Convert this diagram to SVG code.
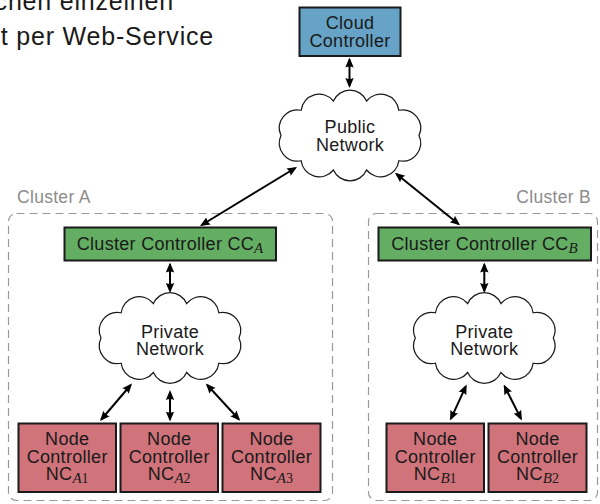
<svg xmlns="http://www.w3.org/2000/svg" width="600" height="504" viewBox="0 0 600 504">
<style>
.t{font-family:"Liberation Sans",Arial,sans-serif;font-size:18px;fill:#1a1a1a;text-anchor:middle;letter-spacing:0.3px}
.sub{font-family:"Liberation Serif","Times New Roman",serif;font-style:italic;font-size:15px;letter-spacing:0}
.subn{font-family:"Liberation Serif","Times New Roman",serif;font-size:14px;letter-spacing:0}
.lbl{font-family:"Liberation Sans",Arial,sans-serif;font-size:17.5px;fill:#8c8c8c;letter-spacing:0.3px}
.head{font-family:"Liberation Sans",Arial,sans-serif;font-size:25px;fill:#1a1a1a;text-anchor:end;letter-spacing:0.8px}
.box{stroke:#1a1a1a;stroke-width:2}
.blue{fill:#67a3c6}
.green{fill:#63ae63}
.red{fill:#d1737b}
.cl{fill:none;stroke:#999;stroke-width:1.2;stroke-dasharray:8 5}
.cloud{fill:#fff;stroke:#1a1a1a;stroke-width:1.2}
.ar{stroke:#000;stroke-width:2;fill:none;marker-start:url(#ah);marker-end:url(#ah)}
</style>
<defs>
<marker id="ah" viewBox="0 -5 10 10" markerWidth="10" markerHeight="10" refX="8" refY="0" orient="auto-start-reverse" markerUnits="userSpaceOnUse">
<path d="M10,0 L0,-4.2 Q2.2,0 0,4.2 Z" fill="#000"/>
</marker>
<path id="cloudshape" d="M-16.1,-33.5 A17.6 17.6 0 0 1 16.1,-33.5 A17.6 17.6 0 0 1 47.4,-24.5 A17.6 17.6 0 0 1 67,0 A17.6 17.6 0 0 1 47.4,24.5 A17.6 17.6 0 0 1 16.1,33.5 A17.6 17.6 0 0 1 -16.1,33.5 A17.6 17.6 0 0 1 -47.4,24.5 A17.6 17.6 0 0 1 -67,0 A17.6 17.6 0 0 1 -47.4,-24.5 A17.6 17.6 0 0 1 -16.1,-33.5 Z"/>
</defs>

<g id="heading">
<text class="head" x="174" y="10">schen einzelnen</text>
<text class="head" x="214" y="44.5">t per Web-Service</text>
</g>

<g id="clusterA">
<rect class="cl" x="8.5" y="213.5" width="324" height="287" rx="8"/>
<text class="lbl" x="17" y="203">Cluster A</text>
</g>
<g id="clusterB">
<rect class="cl" x="368.5" y="213.5" width="229" height="287" rx="8"/>
<text class="lbl" x="591" y="203" text-anchor="end">Cluster B</text>
</g>

<g id="connectors">
<line class="ar" x1="349.5" y1="59.5" x2="349.5" y2="86"/>
<line class="ar" x1="295.3" y1="168" x2="201.7" y2="225"/>
<line class="ar" x1="396.5" y1="174" x2="458.5" y2="224"/>
<line class="ar" x1="170" y1="264.5" x2="170" y2="291"/>
<line class="ar" x1="484.3" y1="264.5" x2="484.3" y2="291"/>
<line class="ar" x1="130.7" y1="385" x2="101.3" y2="419.5"/>
<line class="ar" x1="170" y1="392" x2="170" y2="419.5"/>
<line class="ar" x1="207.2" y1="385" x2="238.8" y2="419.2"/>
<line class="ar" x1="465.8" y1="386.3" x2="450.9" y2="418.8"/>
<line class="ar" x1="504.6" y1="386.3" x2="521" y2="418.8"/>
</g>

<g id="cloudController">
<rect class="box blue" x="299.5" y="7.5" width="101" height="48.5"/>
<text class="t" x="350" y="29.3">Cloud</text>
<text class="t" x="350" y="46.7">Controller</text>
</g>

<g id="publicNetwork">
<use href="#cloudshape" class="cloud" transform="translate(350,135.5) scale(1.03,1.03)"/>
<text class="t" x="350" y="133.3">Public</text>
<text class="t" x="350" y="151">Network</text>
</g>

<g id="ccA">
<rect class="box green" x="64.5" y="227.5" width="211.5" height="33"/>
<text class="t" x="170" y="249.5">Cluster Controller CC<tspan class="sub" dy="3.5">A</tspan></text>
</g>
<g id="ccB">
<rect class="box green" x="378.5" y="227.5" width="212.5" height="33"/>
<text class="t" x="484.5" y="249.5">Cluster Controller CC<tspan class="sub" dy="3.5">B</tspan></text>
</g>

<g id="privateA">
<use href="#cloudshape" class="cloud" transform="translate(170,338) scale(1.03,1.03)"/>
<text class="t" x="170" y="338.3">Private</text>
<text class="t" x="170" y="355">Network</text>
</g>
<g id="privateB">
<use href="#cloudshape" class="cloud" transform="translate(484.3,338) scale(1.03,1.03)"/>
<text class="t" x="484.3" y="338.3">Private</text>
<text class="t" x="484.3" y="355">Network</text>
</g>

<g id="ncA1">
<rect class="box red" x="18.5" y="423.5" width="97.5" height="68.5"/>
<text class="t" x="67.2" y="445">Node</text>
<text class="t" x="67.2" y="463">Controller</text>
<text class="t" x="67.2" y="479.5">NC<tspan class="sub" dy="3.5">A</tspan><tspan class="subn">1</tspan></text>
</g>
<g id="ncA2">
<rect class="box red" x="120.5" y="423.5" width="97.5" height="68.5"/>
<text class="t" x="169.2" y="445">Node</text>
<text class="t" x="169.2" y="463">Controller</text>
<text class="t" x="169.2" y="479.5">NC<tspan class="sub" dy="3.5">A</tspan><tspan class="subn">2</tspan></text>
</g>
<g id="ncA3">
<rect class="box red" x="222.5" y="423.5" width="98" height="68.5"/>
<text class="t" x="271.5" y="445">Node</text>
<text class="t" x="271.5" y="463">Controller</text>
<text class="t" x="271.5" y="479.5">NC<tspan class="sub" dy="3.5">A</tspan><tspan class="subn">3</tspan></text>
</g>
<g id="ncB1">
<rect class="box red" x="386.5" y="423.5" width="97.5" height="68.5"/>
<text class="t" x="435.2" y="445">Node</text>
<text class="t" x="435.2" y="463">Controller</text>
<text class="t" x="435.2" y="479.5">NC<tspan class="sub" dy="3.5">B</tspan><tspan class="subn">1</tspan></text>
</g>
<g id="ncB2">
<rect class="box red" x="488.5" y="423.5" width="98" height="68.5"/>
<text class="t" x="537.5" y="445">Node</text>
<text class="t" x="537.5" y="463">Controller</text>
<text class="t" x="537.5" y="479.5">NC<tspan class="sub" dy="3.5">B</tspan><tspan class="subn">2</tspan></text>
</g>
</svg>
